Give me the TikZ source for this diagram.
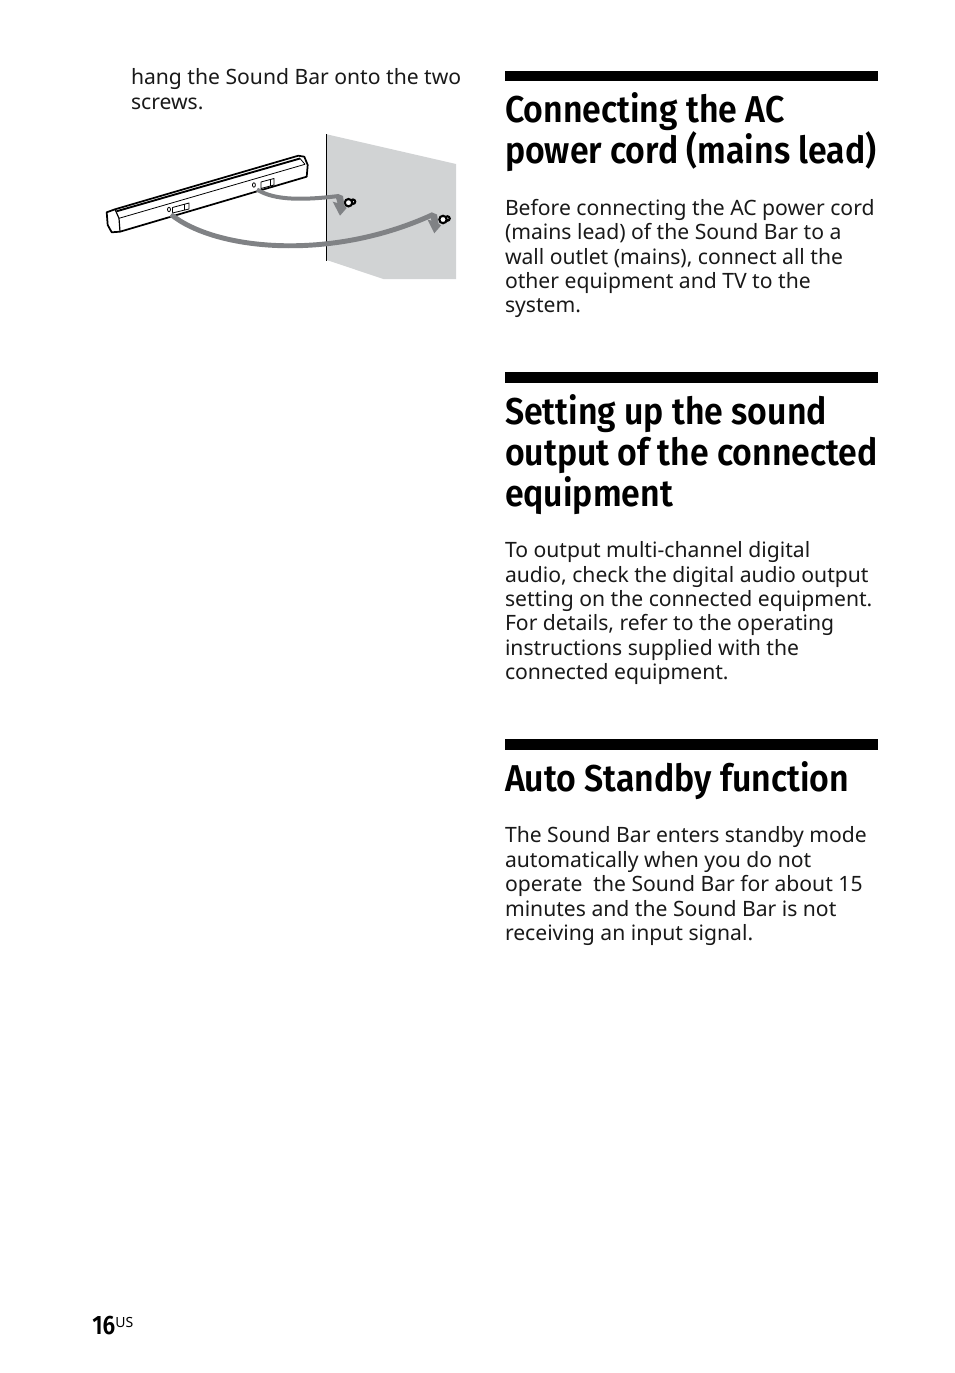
\documentclass[tikz,border=0pt]{standalone}
\usepackage{fontspec}
\setmainfont{Noto Sans}
\newfontfamily\headfont[FakeStretch=0.907]{Fira Sans SemiBold}
\newfontfamily\numfont[FakeStretch=0.85]{Fira Sans SemiBold}
\definecolor{wallgray}{HTML}{D1D3D4}
\definecolor{arrowgray}{HTML}{808285}
\tikzset{
 body/.style={anchor=base west,inner sep=0pt,outer sep=0pt,font=\fontsize{15.85pt}{18pt}\selectfont,text=black!90},
 head/.style={anchor=base west,inner sep=0pt,outer sep=0pt,font=\headfont\fontsize{28pt}{32pt}\selectfont},
 barrule/.style={fill=black,draw=none},
 outline/.style={draw=black,line width=0.9pt,line join=round},
 thin outline/.style={draw=black,line width=0.6pt,line join=round},
 swing/.style={draw=arrowgray,line width=3pt},
 swinghead/.style={fill=arrowgray,draw=none},
 screw/.style={draw=black,fill=white,line width=1.6pt},
}
\begin{document}
\begin{tikzpicture}[x=0.75pt,y=-0.75pt]
\useasboundingbox (0,0) rectangle (954,1373);
% left text
\node[body] (l1) at (131,85) {hang the Sound Bar onto the two};
\node[body] (l2) at (131,110) {screws.};
% wall
\fill[wallgray] (326.7,134.3) -- (456,164) -- (456,279) -- (383.3,279) -- (326.7,260) -- cycle;
\coordinate (wt) at (326.5,134.3);
\coordinate (wb) at (326.5,260.5);
\draw[black,line width=0.8pt] (wt) -- (wb);
% sound bar
\filldraw[fill=white,outline,line width=1.3pt] (106.7,212.3) -- (115,209.3) -- (298.3,155.7) -- (304.3,156.7) -- (307.7,165) -- (306.7,176.7) -- (120,231.7) -- (111.7,232.3) -- (107.7,225) -- cycle;
\draw[outline] (115,209.3) -- (119,218.3) -- (120,231.7);
\draw[outline,line width=1.4pt] (116.5,211.3) -- (300,158.5);
\draw[thin outline] (119,218.3) -- (305,164.3);
\draw[thin outline] (300,158.5) -- (305,164.3);
% slots
\draw[thin outline] (169,209.5) ellipse (1.5 and 2.2);
\draw[thin outline] (172.5,207.5) -- (189,203) -- (189,209) -- (172.5,213) -- cycle;
\draw[thin outline] (184,204.3) -- (184,210);
\draw[thin outline] (253.9,185) ellipse (1.5 and 2.2);
\draw[thin outline] (261,182) -- (274,178.5) -- (274,185) -- (261,188.5) -- cycle;
\draw[thin outline] (270.5,179.5) -- (270.5,185.8);
% screws
\filldraw[screw] (353,201.7) circle (2.2);
\filldraw[screw] (348.5,202.7) circle (3.7);
\filldraw[screw] (447.5,218.5) circle (2.2);
\filldraw[screw] (443,219.5) circle (3.7);
% arrows
\coordinate (a1s) at (257,189.5);
\coordinate (a1e) at (339,196);
\draw[swing] (a1s) .. controls (275,201) and (305,200) .. (a1e);
\fill[swinghead] (338,194) -- (343,196) -- (344.5,206) -- (346.7,208) -- (340,215.7) -- (332.7,201.7) -- (337.5,203) -- (336,198) -- cycle;
\coordinate (a2s) at (171,214.5);
\coordinate (a2e) at (433,214.5);
\draw[swing,line width=3.7pt] (a2s) .. controls (215,250) and (330,262) .. (a2e);
\fill[swinghead] (432,212.5) -- (437,214.5) -- (438.5,223.5) -- (441,225.5) -- (434.3,233.3) -- (427.5,219.5) -- (431.5,220.7) -- (430,216) -- cycle;
% right column rules and text
\fill[barrule] (505,71) rectangle (878,81);
\node[head] (h1) at (505,122.5) {Connecting the AC};
\node[head] (h2) at (505,163.5) {power cord (mains lead)};
\node[body] (p11) at (505,215.5) {Before connecting the AC power cord};
\node[body] (p12) at (505,239.5) {(mains lead) of the Sound Bar to a};
\node[body] (p13) at (505,264) {wall outlet (mains), connect all the};
\node[body] (p14) at (505,288) {other equipment and TV to the};
\node[body] (p15) at (505,312.5) {system.};
\fill[barrule] (505,372) rectangle (878,383);
\node[head] (h3) at (505,424) {Setting up the sound};
\node[head] (h4) at (505,465) {output of the connected};
\node[head] (h5) at (505,506) {equipment};
\node[body] (p21) at (505,557) {To output multi-channel digital};
\node[body] (p22) at (505,582) {audio, check the digital audio output};
\node[body] (p23) at (505,606) {setting on the connected equipment.};
\node[body] (p24) at (505,630) {For details, refer to the operating};
\node[body] (p25) at (505,655) {instructions supplied with the};
\node[body] (p26) at (505,679) {connected equipment.};
\fill[barrule] (505,739) rectangle (878,750);
\node[head] (h6) at (505,791) {Auto Standby function};
\node[body] (p31) at (505,842) {The Sound Bar enters standby mode};
\node[body] (p32) at (505,867) {automatically when you do not};
\node[body] (p33) at (505,891) {operate\ \ the Sound Bar for about 15};
\node[body] (p34) at (505,916) {minutes and the Sound Bar is not};
\node[body] (p35) at (505,940) {receiving an input signal.};
% page number
\node[anchor=base west,inner sep=0pt,font=\numfont\fontsize{20pt}{22pt}\selectfont] (pn) at (92,1334) {16};
\node[anchor=base west,inner sep=0pt,font=\fontsize{10.5pt}{12pt}\selectfont] (us) at (115,1327) {US};
\end{tikzpicture}
\end{document}
